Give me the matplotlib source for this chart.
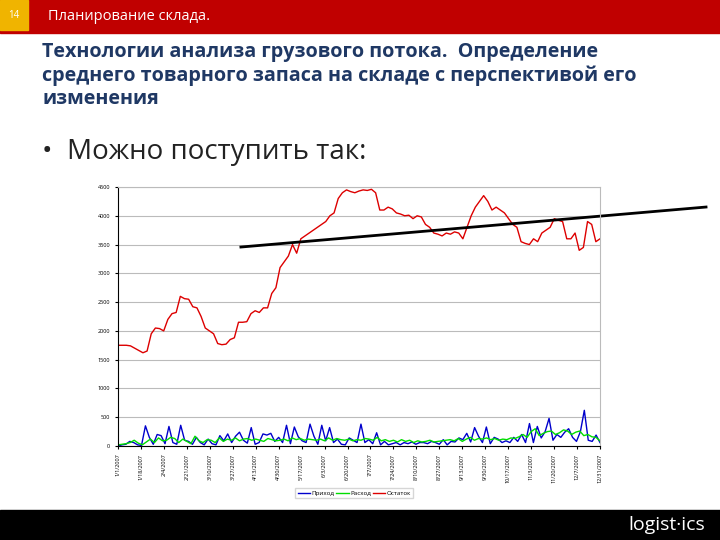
import numpy as np
import matplotlib.pyplot as plt
from matplotlib.patches import Rectangle

plt.rcParams['font.family'] = ['Open Sans', 'DejaVu Sans']

# Data (weekly-ish samples across 2007)
ostatok = [1750, 1750, 1750, 1740, 1700, 1660, 1620, 1650, 1950, 2050, 2040, 2000, 2200,
           2300, 2320, 2600, 2560, 2550, 2420, 2400, 2250, 2050, 2000, 1950, 1780, 1760,
           1770, 1850, 1880, 2150, 2150, 2160, 2300, 2350, 2320, 2400, 2400, 2650, 2750,
           3100, 3200, 3300, 3500, 3350, 3600, 3650, 3700, 3750, 3800, 3850, 3900, 4000,
           4050, 4300, 4400, 4450, 4420, 4400, 4430, 4450, 4440, 4460, 4400, 4100, 4100,
           4150, 4120, 4050, 4030, 4000, 4010, 3950, 4000, 3980, 3850, 3800, 3700, 3680,
           3650, 3700, 3680, 3720, 3700, 3600, 3800, 4000, 4150, 4250, 4350, 4250, 4100,
           4150, 4100, 4050, 3950, 3850, 3800, 3550, 3520, 3500, 3600, 3550, 3700, 3750,
           3800, 3950, 3920, 3900, 3600, 3600, 3700, 3400, 3450, 3900, 3850, 3550, 3600]
prihod = [0, 20, 30, 80, 60, 20, 10, 350, 150, 30, 200, 180, 40, 340, 60, 30, 360, 100, 80,
          30, 150, 60, 20, 120, 40, 20, 180, 90, 210, 60, 170, 240, 100, 50, 320, 30, 60,
          210, 190, 220, 80, 150, 60, 360, 40, 330, 160, 90, 60, 380, 170, 30, 360, 90, 320,
          60, 120, 30, 20, 140, 100, 60, 380, 60, 110, 40, 230, 20, 80, 20, 40, 60, 20, 60,
          40, 70, 30, 60, 60, 40, 80, 60, 30, 110, 20, 80, 70, 140, 110, 220, 70, 320, 170,
          60, 330, 40, 150, 120, 60, 90, 60, 150, 80, 200, 60, 390, 60, 340, 140, 250, 480,
          100, 200, 150, 240, 300, 150, 80, 250, 620, 100, 80, 190, 60]
rashod = [20, 30, 40, 60, 100, 50, 20, 70, 120, 60, 140, 90, 100, 150, 130, 60, 120, 80, 40,
          170, 90, 60, 110, 100, 60, 140, 80, 120, 100, 140, 90, 120, 130, 100, 120, 100,
          80, 130, 110, 90, 100, 120, 90, 140, 110, 130, 100, 120, 110, 100, 120, 90, 140,
          100, 130, 110, 100, 120, 90, 110, 100, 130, 120, 100, 150, 90, 110, 80, 100, 70,
          110, 80, 100, 60, 90, 70, 80, 100, 70, 80, 90, 100, 110, 90, 130, 80, 120, 150,
          100, 130, 120, 140, 110, 130, 100, 120, 110, 140, 130, 160, 200, 150, 250, 300,
          180, 220, 250, 260, 200, 230, 280, 260, 200, 240, 260, 180, 200, 160, 150, 90]
date_labels = ['1/1/2007', '1/18/2007', '2/4/2007', '2/21/2007', '3/10/2007', '3/27/2007',
               '4/13/2007', '4/30/2007', '5/17/2007', '6/3/2007', '6/20/2007', '7/7/2007',
               '7/24/2007', '8/10/2007', '8/27/2007', '9/13/2007', '9/30/2007', '10/17/2007',
               '11/3/2007', '11/20/2007', '12/7/2007', '12/31/2007']

fig = plt.figure(figsize=(7.2, 5.4), dpi=100)

# slide decoration
fig.patches.append(Rectangle((0, 1 - 33/540), 1, 33/540, transform=fig.transFigure, color='#c00000'))
fig.patches.append(Rectangle((0, 1 - 30/540), 28/720, 30/540, transform=fig.transFigure, color='#f0b400'))
fig.patches.append(Rectangle((0, 0), 1, 30/540, transform=fig.transFigure, color='black'))
fig.text(14/720, 1 - 16/540, '14', color='white', fontsize=7, ha='center', va='center')
fig.text(48/720, 1 - 17/540, 'Планирование склада.', color='white', fontsize=10.5, va='center')
fig.text(42/720, 1 - 42/540, 'Технологии анализа грузового потока.  Определение\n'
         'среднего товарного запаса на складе с перспективой его\nизменения',
         color='#1f3864', fontsize=14.2, fontweight='bold', va='top', linespacing=1.2)
fig.text(42/720, 1 - 152/540, '•  Можно поступить так:', color='#222222', fontsize=20, va='center')
fig.text(705/720, 15/540, 'logist·ics', color='white', fontsize=14, ha='right', va='center')

ax = fig.add_axes([118/720, 94/540, 482/720, 259/540])
n = len(ostatok)
ax.plot(np.linspace(0, 1, len(prihod)), prihod, color='#0000cc', lw=1, label='Приход')
ax.plot(np.linspace(0, 1, len(rashod)), rashod, color='#00dd00', lw=1, label='Расход')
ax.plot(np.linspace(0, 1, n), ostatok, color='#dd0000', lw=1, label='Остаток')
ax.plot([0.255, 1.22], [3457, 4152], color='black', lw=2, clip_on=False)

ax.set_xlim(0, 1)
ax.set_ylim(0, 4500)
ax.set_yticks(np.arange(0, 4501, 500))
ax.set_xticks(np.linspace(0, 1, len(date_labels)))
ax.set_xticklabels(date_labels, rotation=90, fontsize=4)
ax.tick_params(axis='y', labelsize=4, length=2)
ax.tick_params(axis='x', length=2)
ax.grid(axis='y', color='#bbbbbb', lw=0.8)
for s in ['top', 'right']:
    ax.spines[s].set_color('#bbbbbb')
ax.legend(loc='upper center', bbox_to_anchor=(0.49, -0.15), ncol=3, fontsize=4.5,
          frameon=True, fancybox=False, handlelength=2, columnspacing=0.3, handletextpad=0.2)

fig.savefig('out.png', dpi=100)
